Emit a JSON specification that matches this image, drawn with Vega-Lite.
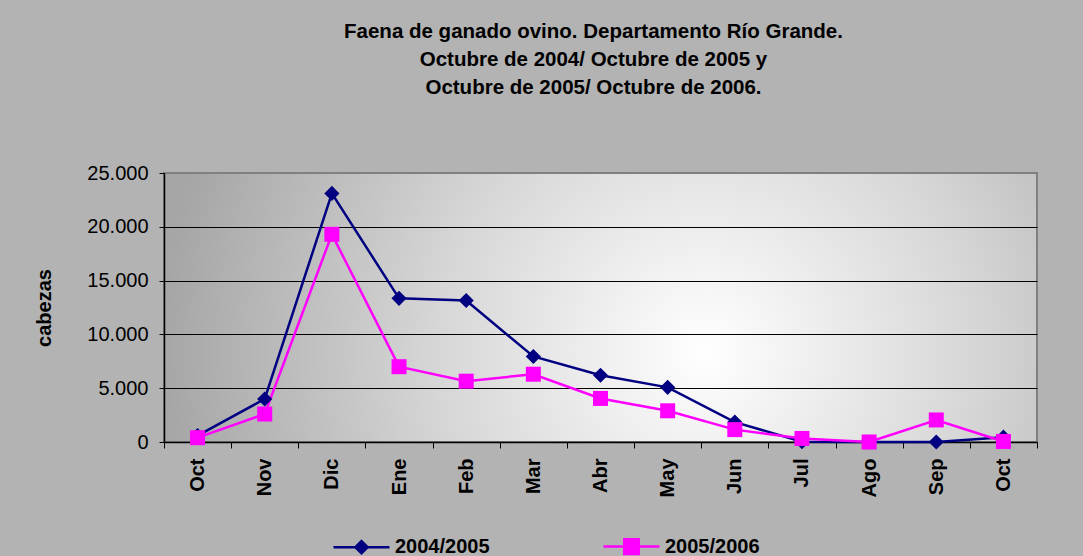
{
  "$schema": "https://vega.github.io/schema/vega-lite/v6.json",
  "width": 873,
  "height": 269,
  "autosize": {"type": "none"},
  "padding": {"left": 164, "top": 173, "right": 46, "bottom": 114},
  "background": "#b3b3b3",
  "config": {
    "locale": {"number": {"decimal": ",", "thousands": ".", "grouping": [3], "currency": ["$", ""]}},
    "font": "Liberation Sans",
    "view": {
      "stroke": "#808080",
      "strokeWidth": 2,
      "fill": {"gradient": "radial", "x1": 0.62, "y1": 0.55, "r1": 0, "x2": 0.62, "y2": 0.55, "r2": 0.62,
        "stops": [{"offset": 0, "color": "#ffffff"}, {"offset": 0.5, "color": "#d6d6d6"}, {"offset": 1, "color": "#a6a6a6"}]}
    }
  },
  "title": {
    "text": ["Faena de ganado ovino. Departamento Río Grande.", "Octubre de 2004/ Octubre de 2005 y", "Octubre de 2005/ Octubre de 2006."],
    "font": "Liberation Sans",
    "fontSize": 20.5,
    "fontWeight": "bold",
    "color": "#000000",
    "lineHeight": 28,
    "anchor": "middle",
    "frame": "group",
    "dx": -7,
    "offset": 65
  },
  "data": {
    "values": [
      {"mes": "Oct1", "serie": "2004/2005", "cabezas": 600},
      {"mes": "Nov", "serie": "2004/2005", "cabezas": 4000},
      {"mes": "Dic", "serie": "2004/2005", "cabezas": 23100},
      {"mes": "Ene", "serie": "2004/2005", "cabezas": 13350},
      {"mes": "Feb", "serie": "2004/2005", "cabezas": 13150},
      {"mes": "Mar", "serie": "2004/2005", "cabezas": 7950},
      {"mes": "Abr", "serie": "2004/2005", "cabezas": 6200},
      {"mes": "May", "serie": "2004/2005", "cabezas": 5080},
      {"mes": "Jun", "serie": "2004/2005", "cabezas": 1850},
      {"mes": "Jul", "serie": "2004/2005", "cabezas": 30},
      {"mes": "Ago", "serie": "2004/2005", "cabezas": 0},
      {"mes": "Sep", "serie": "2004/2005", "cabezas": 0},
      {"mes": "Oct2", "serie": "2004/2005", "cabezas": 450},
      {"mes": "Oct1", "serie": "2005/2006", "cabezas": 400},
      {"mes": "Nov", "serie": "2005/2006", "cabezas": 2600},
      {"mes": "Dic", "serie": "2005/2006", "cabezas": 19300},
      {"mes": "Ene", "serie": "2005/2006", "cabezas": 7000},
      {"mes": "Feb", "serie": "2005/2006", "cabezas": 5650},
      {"mes": "Mar", "serie": "2005/2006", "cabezas": 6300},
      {"mes": "Abr", "serie": "2005/2006", "cabezas": 4050},
      {"mes": "May", "serie": "2005/2006", "cabezas": 2900},
      {"mes": "Jun", "serie": "2005/2006", "cabezas": 1150},
      {"mes": "Jul", "serie": "2005/2006", "cabezas": 330},
      {"mes": "Ago", "serie": "2005/2006", "cabezas": 0},
      {"mes": "Sep", "serie": "2005/2006", "cabezas": 2050},
      {"mes": "Oct2", "serie": "2005/2006", "cabezas": 50}
    ]
  },
  "encoding": {
    "x": {
      "field": "mes",
      "type": "nominal",
      "sort": ["Oct1", "Nov", "Dic", "Ene", "Feb", "Mar", "Abr", "May", "Jun", "Jul", "Ago", "Sep", "Oct2"],
      "scale": {"type": "band", "paddingInner": 0, "paddingOuter": 0},
      "axis": {
        "title": null,
        "labelAngle": -90,
        "labelExpr": "slice(datum.label, 0, 3)",
        "labelFont": "Liberation Sans",
        "labelFontSize": 20,
        "labelFontWeight": "bold",
        "labelColor": "#000000",
        "labelPadding": 10,
        "tickBand": "extent",
        "tickSize": 6,
        "tickColor": "#000000",
        "domainColor": "#000000",
        "domainWidth": 1.5,
        "grid": false
      }
    },
    "y": {
      "field": "cabezas",
      "type": "quantitative",
      "scale": {"domain": [0, 25000], "nice": false},
      "axis": {
        "title": "cabezas",
        "titleFont": "Liberation Sans",
        "titleFontSize": 20,
        "titleFontWeight": "bold",
        "titleColor": "#000000",
        "titlePadding": 32,
        "values": [0, 5000, 10000, 15000, 20000, 25000],
        "format": ",d",
        "labelFont": "Liberation Sans",
        "labelFontSize": 20,
        "labelColor": "#000000",
        "labelPadding": 11,
        "tickSize": 5,
        "tickColor": "#000000",
        "domainColor": "#000000",
        "domainWidth": 1.5,
        "grid": true,
        "gridColor": {"condition": {"test": "datum.value == 25000", "value": "#808080"}, "value": "#000000"},
        "gridOpacity": 1,
        "gridWidth": 1
      }
    },
    "color": {
      "field": "serie",
      "type": "nominal",
      "scale": {"domain": ["2004/2005", "2005/2006"], "range": ["#000080", "#ff00ff"]},
      "legend": {
        "title": null,
        "orient": "none",
        "direction": "horizontal",
        "legendX": 168,
        "legendY": 344,
        "padding": 0,
        "columnPadding": 108,
        "labelFont": "Liberation Sans",
        "labelFontSize": 20,
        "labelFontWeight": "bold",
        "labelColor": "#000000",
        "labelOffset": 4,
        "symbolType": "M-1,0H1",
        "symbolSize": 3136,
        "symbolStrokeWidth": 2.5,
        "encode": {
          "symbols": {
            "update": {
              "shape": {"signal": "datum.value == '2004/2005' ? 'M-1,0H1M0,-0.22L0.22,0L0,0.22L-0.22,0Z' : 'M-1,0H1M-0.26,-0.26H0.26V0.26H-0.26Z'"}
            }
          }
        }
      }
    }
  },
  "layer": [
    {
      "mark": {"type": "line", "strokeWidth": 2.5}
    },
    {
      "transform": [{"filter": "datum.serie == '2004/2005'"}],
      "mark": {"type": "point", "filled": true, "opacity": 1, "size": 230, "shape": "diamond"}
    },
    {
      "transform": [{"filter": "datum.serie == '2005/2006'"}],
      "mark": {"type": "point", "filled": true, "opacity": 1, "size": 225, "shape": "square"}
    }
  ]
}
